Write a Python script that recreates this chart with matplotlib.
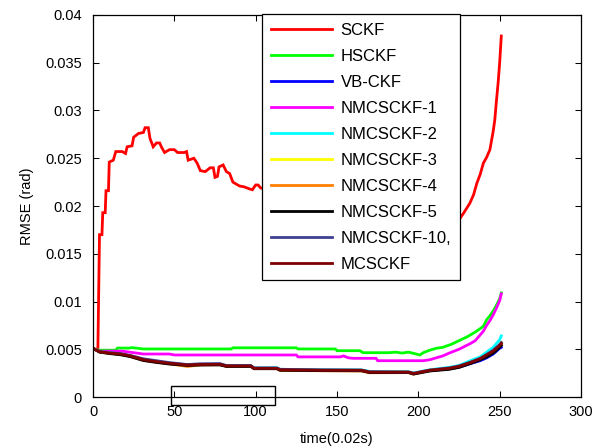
import matplotlib
matplotlib.use("Agg")
import matplotlib.pyplot as plt
from matplotlib.patches import Rectangle

plt.rcParams['font.family'] = ['Liberation Sans', 'DejaVu Sans']

# ---------------- data ----------------
x_sckf = [1, 3, 4, 5.5, 6, 7.5, 8, 9.5, 10, 12.5, 14, 18, 20, 21, 24, 25, 28, 31, 32, 34,
          35, 37, 39, 41, 42, 44, 47, 50, 52, 56, 57.5, 58.5, 62, 64, 66, 69, 72, 74, 75,
          76.5, 77.5, 80, 82, 84, 86, 90, 93, 96, 98, 100, 101.5, 103, 105, 120, 150, 180,
          200, 215, 225.6, 228, 231.7, 234, 236, 238, 240, 242, 244, 246, 247, 248, 249,
          250, 251]
y_sckf = [0.0050, 0.0050, 0.0170, 0.0170, 0.0193, 0.0193, 0.0216, 0.0216, 0.0246, 0.0248,
          0.0257, 0.0257, 0.0255, 0.0262, 0.0263, 0.0272, 0.0276, 0.0277, 0.0282, 0.0282,
          0.0271, 0.0262, 0.0266, 0.0266, 0.0262, 0.0256, 0.0259, 0.0259, 0.0256, 0.0256,
          0.0257, 0.0248, 0.0250, 0.0245, 0.0237, 0.0236, 0.0240, 0.0240, 0.0230, 0.0231,
          0.0241, 0.0243, 0.0236, 0.0234, 0.0225, 0.0221, 0.0220, 0.0218, 0.0217, 0.0222,
          0.0222, 0.0219, 0.0218, 0.0210, 0.0205, 0.0198, 0.0192, 0.0188, 0.0187, 0.0193,
          0.0203, 0.0212, 0.0224, 0.0233, 0.0245, 0.0251, 0.0259, 0.0278, 0.0290, 0.0310,
          0.0328, 0.0350, 0.0378]

x_hsckf = [1, 4, 14, 15, 22, 24, 31, 85, 86, 125, 126, 149, 150, 164, 166, 182, 186, 190,
           194, 201, 203, 207, 211, 215, 220, 225, 230, 235, 240, 242, 244, 246, 248, 250, 251]
y_hsckf = [0.0050, 0.0049, 0.0049, 0.00512, 0.00512, 0.00517, 0.00503, 0.00503, 0.00515,
           0.00515, 0.00503, 0.00503, 0.00485, 0.00485, 0.00464, 0.00464, 0.0047, 0.0046,
           0.0047, 0.0044, 0.00464, 0.0049, 0.0051, 0.0052, 0.0055, 0.0059, 0.0063, 0.0068,
           0.0074, 0.0081, 0.0085, 0.0090, 0.0096, 0.0103, 0.0109]

x_nm1 = [1, 4, 18, 25, 31, 47, 50, 67, 125, 126, 152, 154, 157, 160, 174, 175, 203, 207,
         211, 215, 219, 225, 232, 235, 240, 242, 244, 246, 248, 250, 251]
y_nm1 = [0.0050, 0.0048, 0.0048, 0.00464, 0.0045, 0.0045, 0.0044, 0.0044, 0.0044, 0.0042,
         0.0042, 0.0043, 0.0041, 0.00405, 0.00405, 0.0038, 0.0038, 0.0039, 0.0041, 0.0043,
         0.0046, 0.0050, 0.0056, 0.0059, 0.0069, 0.0075, 0.0080, 0.0086, 0.0093, 0.0101,
         0.0108]

x_low = [1, 4, 10, 17, 23, 31, 39, 47, 58, 66, 78, 82, 97, 99, 113, 115, 140, 165, 170,
         194, 197, 207, 219, 225, 232, 238, 242, 246, 248, 250, 251]
y_vbckf = [0.0050, 0.00474, 0.0046, 0.00448, 0.00428, 0.00388, 0.00368, 0.0035, 0.00333,
           0.00338, 0.0034, 0.00323, 0.00323, 0.0030, 0.0030, 0.00283, 0.00278, 0.00278,
           0.00259, 0.00258, 0.00243, 0.00276, 0.00295, 0.00312, 0.0035, 0.0038, 0.0041,
           0.0045, 0.0048, 0.0051, 0.0052]
y_nm2 = [0.0050, 0.00476, 0.00462, 0.0045, 0.0043, 0.0039, 0.0037, 0.00355, 0.00337,
         0.00342, 0.00344, 0.00327, 0.00328, 0.00303, 0.00306, 0.0029, 0.00285, 0.00284,
         0.00268, 0.00265, 0.0025, 0.00285, 0.0031, 0.0033, 0.0038, 0.0042, 0.0047, 0.0052,
         0.0056, 0.0060, 0.0064]
y_nm3 = [0.0050, 0.00475, 0.0046, 0.00449, 0.00429, 0.00389, 0.00369, 0.00352, 0.00334,
         0.0034, 0.00341, 0.00324, 0.00324, 0.003, 0.003, 0.00284, 0.00279, 0.00279,
         0.0026, 0.0026, 0.00245, 0.00279, 0.003, 0.0032, 0.0036, 0.004, 0.0044, 0.0048,
         0.0051, 0.0054, 0.0057]
y_nm4 = [0.0050, 0.00472, 0.00458, 0.00446, 0.00426, 0.00385, 0.00364, 0.00348, 0.0032,
         0.00336, 0.00338, 0.00322, 0.00322, 0.00298, 0.00297, 0.00278, 0.00275, 0.00272,
         0.00254, 0.00255, 0.0024, 0.00275, 0.00295, 0.00315, 0.00355, 0.00395, 0.0043,
         0.0047, 0.0050, 0.0053, 0.0055]
y_nm5 = [0.0050, 0.0047, 0.00455, 0.00442, 0.00422, 0.00382, 0.00362, 0.00345, 0.0033,
         0.00335, 0.00336, 0.0032, 0.0032, 0.00296, 0.00296, 0.0028, 0.00276, 0.00275,
         0.00256, 0.00256, 0.0024, 0.00272, 0.0029, 0.0031, 0.0035, 0.0039, 0.0042, 0.0046,
         0.0049, 0.0052, 0.0054]
y_nm10 = [0.0050, 0.00478, 0.00465, 0.00455, 0.00435, 0.0040, 0.0038, 0.0036, 0.0034,
          0.00348, 0.0035, 0.0033, 0.0033, 0.00305, 0.00305, 0.0029, 0.00285, 0.00282,
          0.00265, 0.00262, 0.0025, 0.00282, 0.00305, 0.00325, 0.00365, 0.00405, 0.00445,
          0.0049, 0.0052, 0.0055, 0.0057]
y_mcsckf = [0.0050, 0.00474, 0.0046, 0.0045, 0.0043, 0.0039, 0.0037, 0.00353, 0.00335,
            0.0034, 0.00342, 0.00325, 0.00325, 0.0030, 0.0030, 0.00285, 0.0028, 0.0028,
            0.0026, 0.0026, 0.00245, 0.0028, 0.0030, 0.0032, 0.0036, 0.0040, 0.0044, 0.0048,
            0.0051, 0.0054, 0.0056]

labels = ['SCKF', 'HSCKF', 'VB-CKF', 'NMCSCKF-1', 'NMCSCKF-2', 'NMCSCKF-3',
          'NMCSCKF-4', 'NMCSCKF-5', 'NMCSCKF-10,', 'MCSCKF']
colors = ['#ff0000', '#00ff00', '#0000ff', '#ff00ff', '#00ffff', '#ffff00',
          '#ff8000', '#000000', '#404090', '#800000']

xticks = [0, 50, 100, 150, 200, 250, 300]
yticks = [0, 0.005, 0.01, 0.015, 0.02, 0.025, 0.03, 0.035, 0.04]
ytick_labels = ['0', '0.005', '0.01', '0.015', '0.02', '0.025', '0.03', '0.035', '0.04']

# box annotation (data coords)
box_x = [48, 112]
box_y = [-0.00085, 0.00118]

# ---------------- plot ----------------
fig = plt.figure(figsize=(6.08, 4.48), dpi=100)
ax = fig.add_axes([93 / 608, 1 - 397 / 448, 488 / 608, 382 / 448])

series = [(x_sckf, y_sckf), (x_hsckf, y_hsckf), (x_low, y_vbckf), (x_nm1, y_nm1),
          (x_low, y_nm2), (x_low, y_nm3), (x_low, y_nm4), (x_low, y_nm5),
          (x_low, y_nm10), (x_low, y_mcsckf)]
for (xs, ys), lab, c in zip(series, labels, colors):
    ax.plot(xs, ys, color=c, lw=2, label=lab, solid_joinstyle='miter')

ax.set_xlim(0, 300)
ax.set_ylim(0, 0.04)
ax.set_xticks(xticks)
ax.set_xticklabels([str(t) for t in xticks])
ax.set_yticks(yticks)
ax.set_yticklabels(ytick_labels)
ax.tick_params(direction='in', length=4.5, width=0.75, top=True, right=True,
               labelsize=10.5, colors='black')
ax.tick_params(axis='x', pad=6)
ax.tick_params(axis='y', pad=8)
for s in ax.spines.values():
    s.set_linewidth(0.9)

ax.set_xlabel('time(0.02s)', fontsize=10.5, labelpad=9)
ax.set_ylabel('RMSE (rad)', fontsize=10.5, labelpad=8)

leg = ax.legend(loc='upper left', bbox_to_anchor=(0.346, 1.003), borderaxespad=0,
                fontsize=12, frameon=True, fancybox=False, edgecolor='black',
                framealpha=1, handlelength=3.7, handletextpad=0.5, labelspacing=0.66,
                borderpad=0.52)
leg.get_frame().set_linewidth(0.9)

rect = Rectangle((box_x[0], box_y[0]), box_x[1] - box_x[0], box_y[1] - box_y[0],
                 fill=False, edgecolor='black', lw=1.0, clip_on=False, zorder=5)
ax.add_patch(rect)

fig.savefig('out.png', dpi=100)
